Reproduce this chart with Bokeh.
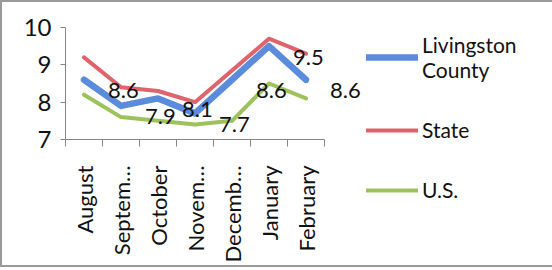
import numpy as np
from bokeh.plotting import figure
from bokeh.core.properties import value
from bokeh.models import (ColumnDataSource, FixedTicker, LabelSet, Legend, LegendItem,
                          Range1d)
from bokeh.embed import file_html
from bokeh.resources import INLINE

months = ["August", "Septem…", "October", "Novem…", "Decemb…", "January", "February"]
livingston = [8.6, 7.9, 8.1, 7.7, 8.6, 9.5, 8.6]
state = [9.2, 8.4, 8.3, 8.0, 8.85, 9.7, 9.3]
us = [8.2, 7.6, 7.5, 7.4, 7.5, 8.5, 8.1]
y_ticks = [7, 8, 9, 10]

FONT = "Lato"
n = len(months)
xs = [i + 0.5 for i in range(n)]

p = figure(frame_width=296, frame_height=112, output_backend="svg", toolbar_location=None,
           x_range=Range1d(0, n + 1), y_range=Range1d(7, 10),
           min_border_left=63, min_border_top=25, min_border_bottom=118,
           min_border_right=179)
p.outline_line_color = None
p.xgrid.visible = False
p.ygrid.visible = False
p.background_fill_color = "white"
p.border_fill_color = "white"
p.styles = {"border": "2px solid #9a9a9a"}

src = ColumnDataSource(dict(x=xs, liv=livingston, st=state, us=us,
                            lab=[f"{v:.1f}" for v in livingston]))

r1 = p.line("x", "liv", source=src, line_color="#5b8bdb", line_width=6.5,
            line_cap="round", line_join="round")
r2 = p.line("x", "st", source=src, line_color="#e0626b", line_width=4,
            line_cap="round", line_join="round")
r3 = p.line("x", "us", source=src, line_color="#9dc25c", line_width=4,
            line_cap="round", line_join="round")

labels = LabelSet(x="x", y="liv", text="lab", source=src, x_offset=24, y_offset=-11,
                  text_baseline="middle", text_align="left", text_font=value(FONT),
                  text_font_size=value("22px"), text_color="#111111")
p.add_layout(labels)

# x axis: labels at centres, boundary ticks as minor ticks
p.xaxis.bounds = (0, n)
p.xaxis.ticker = FixedTicker(ticks=xs, minor_ticks=list(range(n + 1)))
p.xaxis.major_label_overrides = {x: m for x, m in zip(xs, months)}
p.xaxis.major_label_orientation = np.pi / 2
p.xaxis.major_tick_line_color = None
p.xaxis.minor_tick_out = 7
p.xaxis.minor_tick_in = 0
p.xaxis.minor_tick_line_color = "#868686"
p.xaxis.axis_line_color = "#868686"
p.xaxis.major_label_standoff = 19
p.xaxis.major_label_text_font = FONT
p.xaxis.major_label_text_font_size = "22px"
p.xaxis.major_label_text_color = "#111111"

p.yaxis.ticker = FixedTicker(ticks=y_ticks, minor_ticks=[])
p.yaxis.major_tick_out = 5
p.yaxis.major_tick_in = 0
p.yaxis.major_tick_line_color = "#868686"
p.yaxis.axis_line_color = "#868686"
p.yaxis.major_label_standoff = 9
p.yaxis.major_label_text_font = FONT
p.yaxis.major_label_text_font_size = "24px"
p.yaxis.major_label_text_color = "#111111"

legend = Legend(items=[LegendItem(label="Livingston\nCounty", renderers=[r1]),
                       LegendItem(label="State", renderers=[r2]),
                       LegendItem(label="U.S.", renderers=[r3])],
                location=(5, -63), margin=0, padding=0, spacing=35,
                glyph_width=52, label_standoff=4, border_line_color=None,
                background_fill_alpha=0, label_text_font=FONT,
                label_text_font_size="21px", label_text_color="#111111",
                label_text_line_height=1.55)
p.add_layout(legend, "right")

open("out.html", "w").write(file_html(p, INLINE))
